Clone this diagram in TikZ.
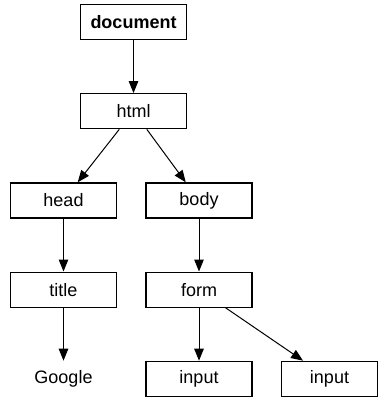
\documentclass[tikz,border=0pt]{standalone}
\usepackage{fontspec}
\setmainfont{Liberation Sans}
\usepackage{tikz}
\usetikzlibrary{arrows.meta}
\usetikzlibrary{positioning}

\begin{document}
\begin{tikzpicture}[node distance=53pt, font=\fontsize{18}{20}\selectfont]
\tikzstyle{tagbox} = [rectangle, draw = black, line width=1.2pt, minimum width=106pt, minimum height=35pt, inner sep=0pt]
\tikzstyle{textleaf} = [rectangle, minimum width=106pt, minimum height=35pt, inner sep=0pt, outer sep=0.6pt]
\tikzstyle{tagedge} = [line width=1pt, -{Triangle[length=12pt,width=9.5pt]}]
\useasboundingbox (0,0) rectangle (379pt,-398pt);
\node (document) [tagbox] at (133.5pt,-22pt) {\textbf{document}};
\node (html) [tagbox, below = of document] {html};
\node (head) [tagbox, below = of html, xshift=-70pt] {head};
\node (body) [tagbox, below = of html, xshift=65.5pt] {body};
\node (title) [tagbox, below = of head] {title};
\node (form) [tagbox, below = of body] {form};
\node (google) [textleaf, below = of title] {Google};
\node (input1) [tagbox, below = of form] {input};
\node (input2) [tagbox, minimum width=96pt, below = of form, xshift=130.5pt] {input};
\draw [tagedge] (document) -- (html);
\draw [tagedge] (html) -- (head);
\draw [tagedge] (html) -- (body);
\draw [tagedge] (head) -- (title);
\draw [tagedge] (title) -- (google);
\draw [tagedge] (body) -- (form);
\draw [tagedge] (form) -- (input1);
\draw [tagedge] (form) -- (input2);
\end{tikzpicture}
\end{document}
